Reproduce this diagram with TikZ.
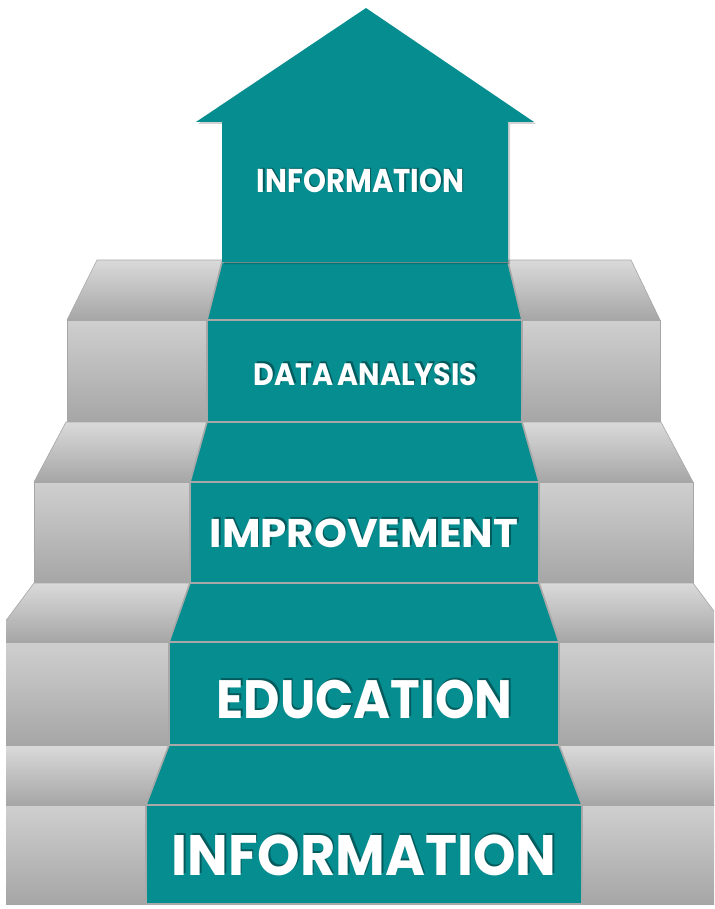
\documentclass[tikz,border=0pt]{standalone}
\usepackage{fontspec}
\setmainfont{Poppins}
\usetikzlibrary{calc}

\definecolor{carpetcol}{HTML}{058D90}
\definecolor{carpetedge}{HTML}{A8A8A8}
\definecolor{stairlight}{HTML}{DADADA}
\definecolor{stairdark}{HTML}{A6A6A6}

\tikzset{
    stairtop/.style={top color=stairlight, bottom color=stairdark, draw=stairdark, line width=0.6pt},
    stairfront/.style={top color=stairlight!95!black, bottom color=stairdark, draw=stairdark, line width=0.6pt},
    carpet/.style={fill=carpetcol, draw=carpetedge, line width=1.6pt, line join=round},
    lbl/.style={text=white, anchor=base, inner sep=0pt},
    lblshadow/.style={text=black, opacity=0.35, anchor=base, inner sep=0pt},
}

% text with a soft drop shadow, squeezed to the reference width
\newcommand{\steplabel}[5]{%
  \node[lblshadow] (#1s) at ($(#2)+(1.6,-1.8)$) {\scalebox{#3}[1]{#4#5}};
  \node[lbl]       (#1)  at (#2)                {\scalebox{#3}[1]{#4#5}};
}

\begin{document}
\begin{tikzpicture}[x=1pt, y=-1pt]
\useasboundingbox (0,0) rectangle (714,909);

\begin{scope}
\clip (6,0) rectangle (714,909);
% level 4 (top)
\draw[stairtop]   (97,260) -- (631,260) -- (660,320) -- (67,320) -- cycle;
\draw[stairfront] (67,320) rectangle (660,422);
% level 3
\draw[stairtop]   (66,422) -- (661,422) -- (693,482) -- (34,482) -- cycle;
\draw[stairfront] (34,482) rectangle (693,583);
% level 2
\draw[stairtop]   (34,583) -- (693,583) -- (737,642) -- (-10,642) -- cycle;
\draw[stairfront] (-10,642) rectangle (737,745);
% level 1 (bottom)
\draw[stairtop]   (-10,745) rectangle (737,805);
\draw[stairfront] (-10,805) rectangle (737,904);
\end{scope}

% carpet treads
\draw[carpet] (222,262) -- (508,262) -- (522,320) -- (207,320) -- cycle;
\draw[carpet] (207,422) -- (522,422) -- (539,482) -- (190,482) -- cycle;
\draw[carpet] (190,583) -- (539,583) -- (559,642) -- (169,642) -- cycle;
\draw[carpet] (169,745) -- (559,745) -- (582,805) -- (146,805) -- cycle;
% carpet risers
\draw[carpet] (207,320) rectangle (522,422);
\draw[carpet] (190,482) rectangle (539,583);
\draw[carpet] (169,642) rectangle (559,745);
\draw[carpet] (146,805) rectangle (582,904);

% arrow on top
\fill[black, opacity=0.18] (368,10) -- (536,124) -- (510,124) -- (510,264)
    -- (224,264) -- (224,124) -- (198,124) -- cycle;
\fill[carpetcol] (366,8) -- (534,122) -- (508,122) -- (508,262)
    -- (222,262) -- (222,122) -- (196,122) -- cycle;

% labels
\coordinate (p5) at (360.5,193);
\coordinate (p4) at (365.5,385);
\coordinate (p3) at (364,547);
\coordinate (p2) at (364.5,718);
\coordinate (p1) at (364,875);
\steplabel{top}{p5}{0.885}{\fontsize{33}{33}\selectfont\bfseries}{INFORMATION}
\steplabel{data}{p4}{0.92}{\fontsize{31}{31}\selectfont\bfseries}{DATA\kern-2pt\ ANALYSIS}
\steplabel{impr}{p3}{1.05}{\fontsize{40}{40}\selectfont\bfseries}{IMPROVEMENT}
\steplabel{educ}{p2}{0.93}{\fontsize{54}{54}\selectfont\bfseries}{EDUCATION}
\steplabel{info}{p1}{0.95}{\fontsize{57}{57}\selectfont\bfseries}{INFORMATION}
\end{tikzpicture}
\end{document}
